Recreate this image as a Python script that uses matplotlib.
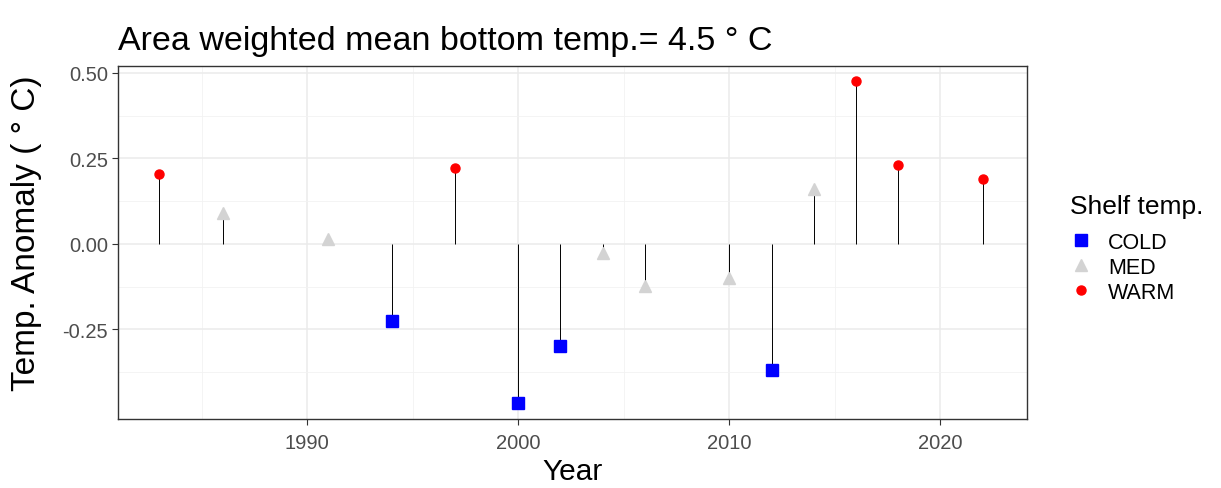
import numpy as np
import matplotlib
matplotlib.use('Agg')
import matplotlib.pyplot as plt
from matplotlib.ticker import MultipleLocator

plt.rcParams['font.family'] = ['Liberation Sans', 'DejaVu Sans']

# data
years = [1983, 1986, 1991, 1994, 1997, 2000, 2002, 2004, 2006, 2010, 2012, 2014, 2016, 2018, 2022]
anomaly = [0.205, 0.09, 0.015, -0.225, 0.222, -0.465, -0.30, -0.026, -0.123, -0.099, -0.37, 0.16, 0.476, 0.231, 0.19]
category = ['WARM', 'MED', 'MED', 'COLD', 'WARM', 'COLD', 'COLD', 'MED', 'MED', 'MED', 'COLD', 'MED', 'WARM', 'WARM', 'WARM']

cat_names = ['COLD', 'MED', 'WARM']
cat_colors = {'COLD': '#0000FF', 'MED': '#D3D3D3', 'WARM': '#FF0000'}
cat_markers = {'COLD': 's', 'MED': '^', 'WARM': 'o'}
cat_sizes = {'COLD': 8, 'MED': 8, 'WARM': 6.5}

fig = plt.figure(figsize=(12.21, 4.89), dpi=100)
ax = fig.add_axes([0.0966, 0.1411, 0.8411 - 0.0966, 0.863 - 0.1411])

# stems
ax.vlines(years, 0, anomaly, color='black', lw=0.7, zorder=2)

years = np.array(years)
anomaly = np.array(anomaly)
category = np.array(category)
for c in cat_names:
    m = category == c
    ax.plot(years[m], anomaly[m], ls='none', marker=cat_markers[c], ms=cat_sizes[c],
            color=cat_colors[c], mec=cat_colors[c], label=c, zorder=3)

ax.set_xlim(1981.04, 2024.1)
ax.set_ylim(-0.512, 0.52)
ax.xaxis.set_major_locator(MultipleLocator(10))
ax.xaxis.set_minor_locator(MultipleLocator(5))
ax.set_yticks([-0.25, 0.0, 0.25, 0.5])
ax.set_yticklabels(['-0.25', '0.00', '0.25', '0.50'])
ax.set_yticks([-0.375, -0.125, 0.125, 0.375], minor=True)

# theme_bw look
ax.grid(True, which='major', color='#EBEBEB', lw=1.1, zorder=0)
ax.grid(True, which='minor', color='#F2F2F2', lw=0.6, zorder=0)
ax.set_axisbelow(True)
for s in ax.spines.values():
    s.set_color('#333333')
    s.set_linewidth(1.0)
ax.tick_params(which='major', length=4, width=0.8, color='#333333',
               labelcolor='#4D4D4D', labelsize=14.5, pad=3)
ax.tick_params(axis='x', pad=6)
ax.tick_params(which='minor', length=0)

ax.set_xlabel('Year', fontsize=21.5, labelpad=4)
ax.set_ylabel('Temp. Anomaly ( ° C)', fontsize=24)
ax.yaxis.set_label_coords(-0.0836, 0.53)
ax.set_title('Area weighted mean bottom temp.= 4.5 ° C', fontsize=24.5,
             loc='left', pad=12)

leg = fig.legend(loc='center left', bbox_to_anchor=(0.8606, 0.49), frameon=False,
                 title='Shelf temp.', fontsize=15.5, title_fontsize=19,
                 handlelength=1.0, handletextpad=0.77, labelspacing=0.18)
leg._legend_box.align = 'left'
leg._legend_box.sep = 10

fig.savefig('out.png', dpi=100)
